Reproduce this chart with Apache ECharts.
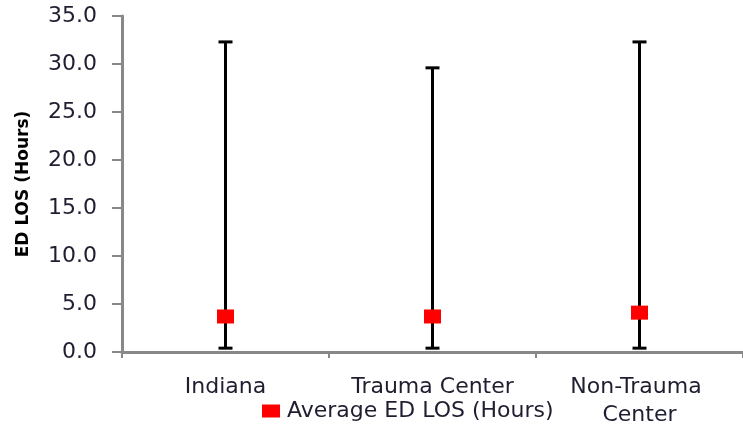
<!DOCTYPE html>
<html>
<head>
<meta charset="utf-8">
<script src="https://cdn.jsdelivr.net/npm/echarts@6/dist/echarts.min.js"></script>
<style>
html,body{margin:0;padding:0;background:#fff;}
#chart{width:743px;height:429px;}
</style>
</head>
<body>
<div id="chart"></div>
<script>
const categories = ['Indiana', 'Trauma Center', 'Non-Trauma Center'];
const averageLOS = [3.7, 3.7, 4.1];
const minLOS = [0.4, 0.4, 0.4];
const maxLOS = [32.3, 29.6, 32.3];
const seriesName = 'Average ED LOS (Hours)';
const yAxisName = 'ED LOS (Hours)';
const yMin = 0, yMax = 35, yInterval = 5;

const textColor = '#1e1e30';
const chart = echarts.init(document.getElementById('chart'));
chart.setOption({
  animation: false,
  backgroundColor: '#fff',
  grid: { left: 122, right: 0, top: 16, bottom: 72 },
  legend: {
    data: [{ name: seriesName, icon: 'rect' }],
    left: 257, top: 395,
    itemWidth: 18, itemHeight: 13,
    textStyle: { fontFamily: 'DejaVu Sans', fontSize: 22, color: textColor, padding: [0,0,0,2] }
  },
  xAxis: {
    type: 'category',
    data: categories,
    axisLine: { lineStyle: { color: '#888', width: 3 } },
    axisTick: { show: true, length: 6, lineStyle: { color: '#888', width: 2 } },
    axisLabel: {
      margin: 21, fontFamily: 'DejaVu Sans', fontSize: 22, color: textColor,
      lineHeight: 28, width: 190, overflow: 'break', interval: 0
    }
  },
  yAxis: {
    type: 'value',
    min: yMin, max: yMax, interval: yInterval,
    name: yAxisName,
    nameLocation: 'middle',
    nameGap: 90,
    nameRotate: 90,
    nameTextStyle: { fontFamily: 'DejaVu Sans', fontWeight: 'bold', fontSize: 17, color: '#000' },
    axisLine: { show: true, lineStyle: { color: '#888', width: 3 } },
    axisTick: { show: true, length: 10, lineStyle: { color: '#888', width: 2 } },
    splitLine: { show: false },
    axisLabel: {
      margin: 25, fontFamily: 'DejaVu Sans', fontSize: 22, color: textColor,
      formatter: v => v.toFixed(1)
    }
  },
  series: [
    {
      type: 'custom',
      name: 'range',
      z: 2,
      data: categories.map((c, i) => [i, minLOS[i], maxLOS[i]]),
      renderItem: function (params, api) {
        const lo = api.coord([api.value(0), api.value(1)]);
        const hi = api.coord([api.value(0), api.value(2)]);
        const cap = 7;
        const style = { stroke: '#000', lineWidth: 3 };
        return {
          type: 'group',
          children: [
            { type: 'line', shape: { x1: lo[0], y1: lo[1], x2: hi[0], y2: hi[1] }, style: style },
            { type: 'line', shape: { x1: hi[0] - cap, y1: hi[1], x2: hi[0] + cap, y2: hi[1] }, style: style },
            { type: 'line', shape: { x1: lo[0] - cap, y1: lo[1], x2: lo[0] + cap, y2: lo[1] }, style: style }
          ]
        };
      },
      encode: { x: 0, y: [1, 2] }
    },
    {
      type: 'scatter',
      name: seriesName,
      z: 5,
      data: averageLOS,
      symbol: 'rect',
      symbolSize: [17, 14],
      itemStyle: { color: '#ff0000', opacity: 1 }
    }
  ]
});
</script>
</body>
</html>
